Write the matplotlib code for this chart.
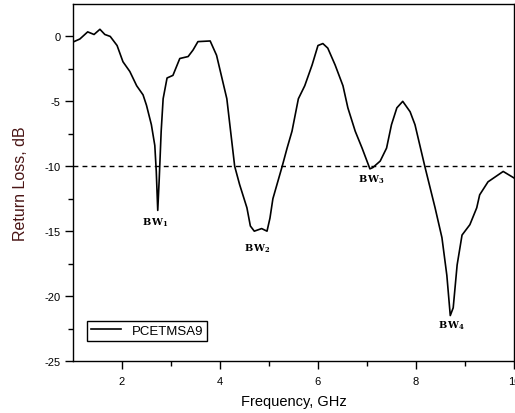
import numpy as np
import matplotlib.pyplot as plt

plt.rcParams['font.family'] = ['Liberation Sans', 'DejaVu Sans']
plt.rcParams['mathtext.fontset'] = 'dejavuserif'
plt.rcParams['axes.unicode_minus'] = False

# Return loss data (GHz, dB)
freq = [1.02, 1.14, 1.3, 1.43, 1.55, 1.65, 1.76, 1.9, 2.02, 2.16, 2.3, 2.43, 2.5,
        2.6, 2.67, 2.7, 2.73, 2.76, 2.8, 2.84, 2.92, 3.04, 3.18, 3.35, 3.45, 3.55,
        3.8, 3.93, 4.14, 4.3, 4.4, 4.55, 4.62, 4.7, 4.85, 4.96, 5.02, 5.08, 5.27,
        5.37, 5.47, 5.6, 5.73, 5.88, 6.0, 6.1, 6.2, 6.35, 6.51, 6.61, 6.76, 6.9,
        7.06, 7.12, 7.27, 7.4, 7.5, 7.61, 7.73, 7.88, 7.98, 8.08, 8.18, 8.39, 8.53,
        8.63, 8.7, 8.76, 8.84, 8.94, 9.1, 9.24, 9.3, 9.47, 9.78, 10.0]
rl = [-0.4, -0.2, 0.35, 0.15, 0.55, 0.15, 0.0, -0.7, -1.95, -2.7, -3.8, -4.5, -5.3,
      -6.8, -8.4, -10.4, -13.4, -11.0, -7.3, -4.8, -3.2, -3.0, -1.7, -1.55, -1.05, -0.4,
      -0.35, -1.45, -4.8, -10.0, -11.4, -13.2, -14.6, -15.0, -14.8, -15.0, -14.0, -12.5, -10.0,
      -8.6, -7.3, -4.8, -3.8, -2.2, -0.7, -0.55, -0.9, -2.2, -3.8, -5.5, -7.3, -8.6,
      -10.2, -10.1, -9.6, -8.6, -6.8, -5.5, -5.0, -5.8, -6.8, -8.4, -10.0, -13.2, -15.5,
      -18.4, -21.5, -20.9, -17.6, -15.3, -14.5, -13.2, -12.2, -11.2, -10.4, -10.9]

bw_labels = ['1', '2', '3', '4']
bw_x = [2.69, 4.76, 7.1, 8.73]
bw_y = [-14.3, -16.3, -11.0, -22.2]

fig = plt.figure(figsize=(5.15, 4.14), dpi=100)
ax = fig.add_axes([0.1417, 0.1256, 0.8563, 0.8624])

ax.plot(freq, rl, color='black', lw=1.2, label='PCETMSA9')
ax.axhline(-10, color='black', lw=1, ls=(0, (3.5, 3)))

for lab, x, y in zip(bw_labels, bw_x, bw_y):
    ax.text(x, y, r'$\mathbf{B\,W_{%s}}$' % lab, fontsize=7, ha='center', va='center')

ax.set_xlim(1, 10)
ax.set_ylim(-25, 2.5)
ax.set_xticks([2, 4, 6, 8, 10])
ax.set_xticklabels(['2', '4', '6', '8', '10'])
ax.set_xticks([3, 5, 7, 9], minor=True)
ax.set_yticks([0, -5, -10, -15, -20, -25])
ax.set_yticks(np.arange(-22.5, 2.5, 5), minor=True)
ax.tick_params(direction='out', length=5.5, width=1, labelsize=8)
ax.tick_params(axis='x', pad=5)
ax.tick_params(which='minor', direction='out', length=3.5, width=1)

ax.set_xlabel('Frequency, GHz', fontsize=10.5, labelpad=6)
ax.set_ylabel('Return Loss, dB', fontsize=11.5, color='#4a1515', labelpad=12)

ax.legend(loc='lower left', bbox_to_anchor=(0.032, 0.056), fontsize=9.5, fancybox=False,
          edgecolor='black', framealpha=1, handlelength=2.3, borderpad=0.3,
          borderaxespad=0)

for s in ax.spines.values():
    s.set_linewidth(1)

fig.savefig('out.png', dpi=100)
